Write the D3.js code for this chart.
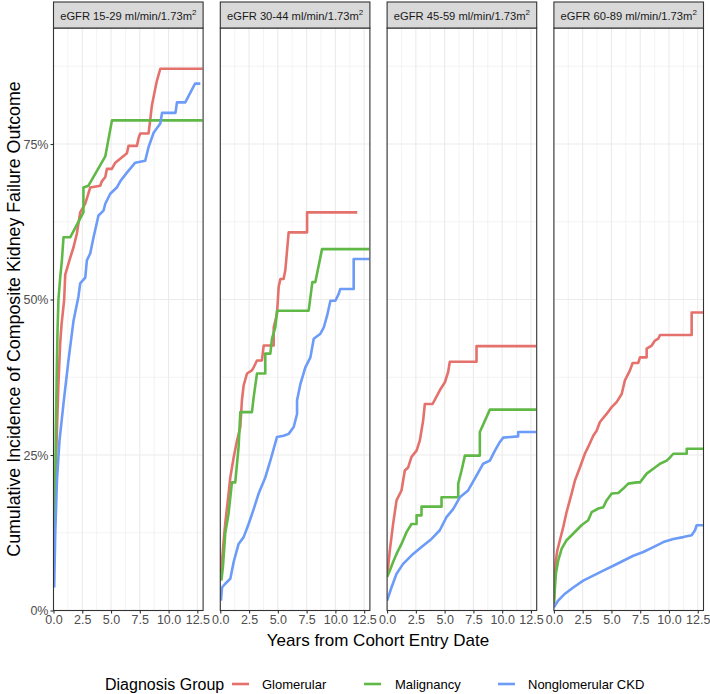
<!DOCTYPE html>
<html>
<head>
<meta charset="utf-8">
<script src="https://cdn.jsdelivr.net/npm/d3@7"></script>
<style>
  html, body { margin: 0; padding: 0; background: #fff; }
  svg { display: block; font-family: "Liberation Sans", Arial, Helvetica, sans-serif; }
</style>
</head>
<body>
<svg id="chart" width="710" height="694"></svg>
<script>
// ---------------- DATA ----------------
const panelLabels = ["eGFR 15-29 ml/min/1.73m", "eGFR 30-44 ml/min/1.73m", "eGFR 45-59 ml/min/1.73m", "eGFR 60-89 ml/min/1.73m"];
const groups = ["Glomerular", "Malignancy", "Nonglomerular CKD"];
const groupColors = ["#E4716B", "#60B946", "#6C9BF8"];
const xTicks = [0, 2.5, 5, 7.5, 10, 12.5];
const xMinor = [1.25, 3.75, 6.25, 8.75, 11.25];
const yTicks = [0, 0.25, 0.5, 0.75];
const yMinor = [0.125, 0.375, 0.625, 0.875];

// [years, cumulative incidence]
const glom1 = [[0.08,0.13],[0.15,0.19],[0.2,0.23],[0.29,0.285],[0.43,0.365],[0.58,0.43],[0.7,0.46],[0.93,0.5],[1.02,0.54],[1.45,0.567],[1.74,0.584],[2.03,0.606],[2.32,0.64],[2.76,0.654],[3.19,0.68],[4.06,0.683],[4.2,0.69],[4.5,0.697],[4.64,0.71],[5.07,0.71],[5.37,0.72],[6.38,0.735],[6.52,0.747],[7.25,0.747],[7.4,0.76],[7.54,0.767],[8.26,0.767],[8.4,0.788],[8.55,0.812],[8.84,0.839],[8.99,0.852],[9.28,0.871],[12.95,0.871]];
const malig1 = [[0.05,0.12],[0.1,0.15],[0.15,0.18],[0.2,0.285],[0.29,0.39],[0.35,0.45],[0.43,0.5],[0.58,0.535],[0.73,0.563],[0.87,0.6],[1.45,0.6],[2.6,0.64],[2.6,0.68],[3.04,0.683],[4.5,0.73],[5.08,0.788],[12.95,0.788]];
const nonglom1 = [[0.06,0.037],[0.15,0.124],[0.3,0.209],[0.52,0.273],[0.87,0.333],[1.3,0.402],[1.74,0.466],[2.17,0.505],[2.32,0.526],[2.76,0.535],[2.9,0.563],[3.19,0.574],[3.48,0.6],[3.91,0.635],[4.35,0.643],[4.5,0.654],[4.93,0.67],[5.5,0.68],[5.8,0.69],[6.38,0.704],[7.1,0.72],[7.97,0.723],[8.26,0.745],[8.7,0.768],[9.28,0.783],[9.43,0.8],[10.6,0.8],[10.73,0.817],[11.45,0.817],[12.3,0.847],[12.76,0.847]];

const glom2 = [[0.06,0.06],[0.15,0.08],[0.29,0.112],[0.43,0.14],[0.72,0.188],[0.87,0.214],[1.16,0.246],[1.45,0.273],[1.74,0.295],[1.88,0.338],[2.03,0.362],[2.32,0.381],[2.75,0.386],[2.9,0.391],[3.19,0.402],[3.62,0.402],[3.77,0.426],[4.64,0.426],[4.64,0.455],[4.93,0.477],[5.07,0.52],[5.22,0.533],[5.5,0.533],[5.65,0.547],[5.94,0.608],[7.54,0.608],[7.54,0.64],[11.9,0.64]];
const malig2 = [[0.09,0.048],[0.23,0.07],[0.43,0.124],[0.72,0.156],[1.01,0.206],[1.3,0.206],[1.59,0.263],[1.74,0.319],[2.75,0.319],[2.9,0.343],[3.19,0.381],[3.91,0.381],[3.91,0.413],[4.35,0.413],[4.49,0.437],[4.78,0.455],[4.93,0.482],[7.68,0.482],[8.0,0.528],[8.26,0.528],[8.84,0.581],[12.95,0.581]];
const nonglom2 = [[0.06,0.016],[0.15,0.037],[0.43,0.043],[0.87,0.051],[1.16,0.078],[1.59,0.107],[2.03,0.118],[2.46,0.139],[2.9,0.163],[3.33,0.188],[3.91,0.214],[4.35,0.241],[4.93,0.279],[5.5,0.281],[5.94,0.284],[6.38,0.295],[6.67,0.316],[6.67,0.338],[6.96,0.364],[7.39,0.391],[7.83,0.407],[8.12,0.437],[8.7,0.445],[8.99,0.455],[9.28,0.474],[9.57,0.498],[10.0,0.498],[10.29,0.509],[10.43,0.517],[11.59,0.517],[11.59,0.565],[12.95,0.565]];

const glom3 = [[0.0,0.059],[0.09,0.07],[0.23,0.096],[0.52,0.139],[0.82,0.177],[1.25,0.193],[1.54,0.225],[1.83,0.23],[2.12,0.247],[2.56,0.257],[2.84,0.273],[3.13,0.305],[3.28,0.332],[3.95,0.332],[4.58,0.354],[5.02,0.367],[5.3,0.383],[5.45,0.4],[7.77,0.4],[7.77,0.425],[12.95,0.425]];
const malig3 = [[0.0,0.054],[0.23,0.064],[0.52,0.078],[0.82,0.091],[1.25,0.107],[1.69,0.126],[2.12,0.139],[2.56,0.139],[2.56,0.153],[2.99,0.153],[2.99,0.167],[4.73,0.167],[4.73,0.182],[6.18,0.182],[6.18,0.204],[6.47,0.225],[6.76,0.249],[8.06,0.249],[8.06,0.287],[8.93,0.323],[12.95,0.323]];
const nonglom3 = [[0.0,0.016],[0.38,0.037],[0.82,0.059],[1.39,0.075],[2.26,0.091],[2.99,0.102],[3.86,0.115],[4.58,0.129],[5.16,0.15],[5.74,0.163],[6.32,0.182],[7.04,0.193],[7.77,0.217],[8.35,0.236],[8.93,0.241],[9.37,0.257],[9.8,0.271],[10.09,0.278],[11.39,0.28],[11.39,0.287],[12.95,0.287]];

const glom4 = [[0.0,0.011],[0.09,0.054],[0.17,0.08],[0.29,0.096],[0.52,0.113],[0.81,0.134],[1.1,0.158],[1.54,0.188],[1.83,0.209],[2.26,0.23],[2.69,0.252],[2.98,0.263],[3.42,0.281],[3.71,0.289],[4.0,0.303],[4.58,0.316],[5.02,0.327],[5.45,0.335],[5.89,0.348],[6.17,0.37],[6.61,0.386],[6.84,0.398],[7.33,0.398],[7.48,0.407],[8.06,0.407],[8.06,0.421],[8.5,0.426],[8.78,0.434],[9.07,0.437],[9.22,0.443],[11.97,0.443],[11.97,0.479],[12.95,0.479]];
const malig4 = [[0.0,0.011],[0.17,0.059],[0.37,0.08],[0.67,0.099],[1.1,0.113],[1.54,0.121],[1.97,0.129],[2.4,0.137],[2.98,0.145],[3.28,0.158],[3.86,0.164],[4.29,0.166],[4.58,0.177],[5.02,0.188],[5.59,0.189],[6.03,0.196],[6.46,0.204],[7.19,0.206],[7.48,0.206],[8.06,0.22],[8.64,0.228],[9.22,0.236],[9.8,0.241],[10.09,0.246],[10.38,0.252],[11.54,0.252],[11.54,0.26],[12.95,0.26]];
const nonglom4 = [[0.0,0.005],[0.37,0.016],[0.96,0.027],[1.68,0.037],[2.55,0.048],[3.42,0.056],[4.29,0.064],[5.16,0.072],[6.03,0.08],[6.9,0.088],[7.77,0.094],[8.64,0.102],[9.51,0.11],[10.38,0.115],[11.24,0.118],[11.97,0.121],[12.26,0.129],[12.4,0.137],[12.95,0.137]];

const panelSeries = [
  [glom1, malig1, nonglom1],
  [glom2, malig2, nonglom2],
  [glom3, malig3, nonglom3],
  [glom4, malig4, nonglom4]
];

// ---------------- LAYOUT ----------------
const svg = d3.select("#chart");
const panelLeft0 = 53.5, panelW = 149.6, panelStep = 166.8;
const plotTop = 28, plotBottom = 610.5, stripTop = 2;
const y = d3.scaleLinear().domain([0, 0.9365]).range([plotBottom, plotTop]);
const gridCol = "#ebebeb", borderCol = "#333333", tickTextCol = "#4d4d4d";

const defs = svg.append("defs");

panelLabels.forEach((lab, i) => {
  const left = panelLeft0 + i * panelStep;
  const x = d3.scaleLinear().domain([0, 13]).range([left, left + panelW]);
  const g = svg.append("g");

  defs.append("clipPath").attr("id", "clip" + i)
    .append("rect").attr("x", left).attr("y", plotTop).attr("width", panelW).attr("height", plotBottom - plotTop);

  // minor grid
  g.selectAll(".vminor").data(xMinor).join("line")
    .attr("x1", d => x(d)).attr("x2", d => x(d)).attr("y1", plotTop).attr("y2", plotBottom)
    .attr("stroke", gridCol).attr("stroke-width", 0.6);
  g.selectAll(".hminor").data(yMinor).join("line")
    .attr("x1", left).attr("x2", left + panelW).attr("y1", d => y(d)).attr("y2", d => y(d))
    .attr("stroke", gridCol).attr("stroke-width", 0.6);
  // major grid
  g.selectAll(".vmajor").data(xTicks).join("line")
    .attr("x1", d => x(d)).attr("x2", d => x(d)).attr("y1", plotTop).attr("y2", plotBottom)
    .attr("stroke", gridCol).attr("stroke-width", 1.1);
  g.selectAll(".hmajor").data(yTicks).join("line")
    .attr("x1", left).attr("x2", left + panelW).attr("y1", d => y(d)).attr("y2", d => y(d))
    .attr("stroke", gridCol).attr("stroke-width", 1.1);

  // lines
  const line = d3.line().x(d => x(d[0])).y(d => y(d[1]));
  const lg = g.append("g").attr("clip-path", `url(#clip${i})`);
  panelSeries[i].forEach((ser, k) => {
    lg.append("path").datum(ser).attr("d", line)
      .attr("fill", "none").attr("stroke", groupColors[k]).attr("stroke-width", 2.6)
      .attr("stroke-linejoin", "round");
  });

  // panel border
  g.append("rect").attr("x", left).attr("y", plotTop).attr("width", panelW).attr("height", plotBottom - plotTop)
    .attr("fill", "none").attr("stroke", borderCol).attr("stroke-width", 1.1);

  // strip
  g.append("rect").attr("x", left).attr("y", stripTop).attr("width", panelW).attr("height", plotTop - stripTop)
    .attr("fill", "#d9d9d9").attr("stroke", borderCol).attr("stroke-width", 1.1);
  const st = g.append("text").attr("x", left + panelW / 2).attr("y", 19.5)
    .attr("text-anchor", "middle").attr("font-size", 11.2).attr("fill", "#1a1a1a");
  st.append("tspan").text(lab);
  st.append("tspan").attr("dy", -4.5).attr("font-size", 8).text("2");

  // x axis
  const xa = d3.axisBottom(x).tickValues(xTicks).tickFormat(d3.format(".1f")).tickSize(3).tickPadding(2);
  const xg = svg.append("g").attr("transform", `translate(0,${plotBottom})`).call(xa);
  xg.select(".domain").remove();
  xg.selectAll(".tick line").attr("stroke", borderCol).attr("stroke-width", 1.1);
  xg.selectAll(".tick text").attr("fill", tickTextCol).attr("font-size", 12.5)
    .attr("font-family", "Liberation Sans, Arial, sans-serif");

  if (i === 0) {
    const ya = d3.axisLeft(y).tickValues(yTicks).tickFormat(d3.format(".0%")).tickSize(3).tickPadding(2);
    const yg = svg.append("g").attr("transform", `translate(${left},0)`).call(ya);
    yg.select(".domain").remove();
    yg.selectAll(".tick line").attr("stroke", borderCol).attr("stroke-width", 1.1);
    yg.selectAll(".tick text").attr("fill", tickTextCol).attr("font-size", 12.5)
      .attr("font-family", "Liberation Sans, Arial, sans-serif");
  }
});

// axis titles
svg.append("text").attr("x", 378).attr("y", 646).attr("text-anchor", "middle")
  .attr("font-size", 17).attr("fill", "#000").text("Years from Cohort Entry Date");
svg.append("text").attr("transform", "translate(20,319) rotate(-90)").attr("text-anchor", "middle")
  .attr("font-size", 17.8).attr("fill", "#000").text("Cumulative Incidence of Composite Kidney Failure Outcome");

// legend
svg.append("text").attr("x", 105).attr("y", 690).attr("font-size", 16).attr("fill", "#000").text("Diagnosis Group");
const legX = [232, 364, 498];
const legTX = [262, 395, 528];
groups.forEach((gname, k) => {
  svg.append("line").attr("x1", legX[k]).attr("x2", legX[k] + 17).attr("y1", 684).attr("y2", 684)
    .attr("stroke", groupColors[k]).attr("stroke-width", 2.6);
  svg.append("text").attr("x", legTX[k]).attr("y", 688.5).attr("font-size", 13).attr("fill", "#000").text(gname);
});
</script>
</body>
</html>
